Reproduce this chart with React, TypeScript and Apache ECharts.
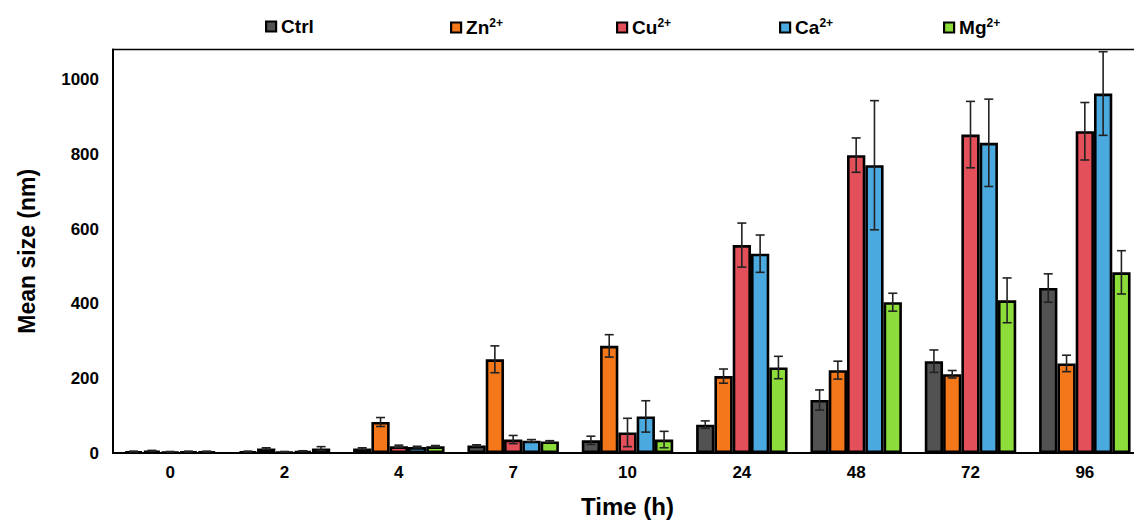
import React, { useEffect, useRef } from "react";
import * as echarts from "echarts";

const categories = ["0", "2", "4", "7", "10", "24", "48", "72", "96"];
const seriesNames = ["Ctrl", "Zn2+", "Cu2+", "Ca2+", "Mg2+"];
const seriesColors = ["#525252", "#F47719", "#E4505A", "#4AAAE0", "#8CDC3A"];

const ctrlValues = [4, 4, 12, 20, 34, 76, 142, 246, 442];
const ctrlErrors = [1, 1, 2, 2, 11, 10, 27, 30, 38];
const znValues = [6, 12, 83, 251, 287, 206, 222, 211, 240];
const znErrors = [1, 2, 12, 36, 30, 19, 24, 10, 22];
const cuValues = [3, 3, 18, 36, 55, 557, 798, 853, 862];
const cuErrors = [1, 1, 3, 11, 38, 59, 46, 89, 77];
const caValues = [4, 5, 16, 33, 98, 534, 771, 831, 963];
const caErrors = [1, 1, 2, 3, 42, 50, 173, 117, 112];
const mgValues = [4, 12, 18, 31, 36, 229, 404, 409, 484];
const mgErrors = [1, 5, 2, 2, 22, 30, 24, 60, 58];

const yTicks = [0, 200, 400, 600, 800, 1000];
const legendLefts = [265, 450, 616, 779, 943];

const allValues = [ctrlValues, znValues, cuValues, caValues, mgValues];
const allErrors = [ctrlErrors, znErrors, cuErrors, caErrors, mgErrors];

const CAT_GAP = 0.2;

export default function App() {
  const ref = useRef<HTMLDivElement>(null);
  useEffect(() => {
    if (!ref.current) return;
    const chart = echarts.init(ref.current, null, { renderer: "svg" });
    const font = "'Liberation Sans', Arial, sans-serif";

    const barSeries = seriesNames.map((name, i) => ({
      name,
      type: "bar",
      data: allValues[i],
      barGap: "0%",
      barCategoryGap: CAT_GAP * 100 + "%",
      itemStyle: { color: seriesColors[i], borderColor: "#000", borderWidth: 2.6 },
      z: 2,
    }));

    const errSeries = seriesNames.map((name, i) => ({
      name: name + "_err",
      type: "custom",
      z: 5,
      data: allValues[i].map((v, k) => [k, v, allErrors[i][k]]),
      renderItem: (params: any, api: any) => {
        const k = api.value(0);
        const v = api.value(1);
        const e = api.value(2);
        const top = api.coord([k, v + e]);
        const bot = api.coord([k, Math.max(0, v - e)]);
        const band = api.size([1, 0])[0];
        const w = (band * (1 - CAT_GAP)) / 5;
        const x = top[0] + (i - 2) * w;
        const cap = 4.5;
        const st = { stroke: "#222", lineWidth: 1.6 };
        return {
          type: "group",
          children: [
            { type: "line", shape: { x1: x, y1: top[1], x2: x, y2: bot[1] }, style: st },
            { type: "line", shape: { x1: x - cap, y1: top[1], x2: x + cap, y2: top[1] }, style: st },
            { type: "line", shape: { x1: x - cap, y1: bot[1], x2: x + cap, y2: bot[1] }, style: st },
          ],
        };
      },
    }));

    const legends = seriesNames.map((name, i) => ({
      data: [name],
      left: legendLefts[i],
      top: 17,
      icon: "rect",
      itemWidth: 10,
      itemHeight: 10,
      itemGap: 0,
      padding: 0,
      selectedMode: false,
      itemStyle: { borderWidth: 2.2, borderColor: "#000" },
      formatter: (n: string) => {
        const m = n.match(/^([A-Za-z]+)(\d\+)$/);
        return m ? "{b|" + m[1] + "}{sup|" + m[2] + "}" : "{b|" + n + "}";
      },
      textStyle: {
        fontFamily: font,
        fontWeight: "bold",
        fontSize: 19,
        color: "#000",
        rich: {
          b: { fontFamily: font, fontWeight: "bold", fontSize: 19, color: "#000" },
          sup: { fontFamily: font, fontWeight: "bold", fontSize: 12, color: "#000", padding: [0, 0, 9, 0] },
        },
      },
    }));

    chart.setOption({
      animation: false,
      backgroundColor: "#fff",
      legend: legends,
      grid: {
        left: 113,
        right: 0,
        top: 49.5,
        bottom: 68.5,
        show: true,
        borderColor: "#000",
        borderWidth: 1.6,
        containLabel: false,
      },
      xAxis: {
        type: "category",
        data: categories,
        axisLine: { lineStyle: { color: "#000", width: 2 } },
        axisTick: { show: false },
        axisLabel: { fontFamily: font, fontWeight: "bold", fontSize: 17, color: "#000", margin: 11 },
        name: "Time (h)",
        nameLocation: "middle",
        nameGap: 41,
        nameTextStyle: { fontFamily: font, fontWeight: "bold", fontSize: 24, color: "#000" },
      },
      yAxis: {
        type: "value",
        min: 0,
        max: 1081,
        interval: 200,
        splitLine: { show: false },
        axisLine: { show: true, lineStyle: { color: "#000", width: 2 } },
        axisTick: { show: false },
        axisLabel: {
          fontFamily: font,
          fontWeight: "bold",
          fontSize: 17,
          color: "#000",
          margin: 14,
          formatter: (v: number) => (yTicks.indexOf(v) >= 0 ? String(v) : ""),
        },
        name: "Mean size (nm)",
        nameLocation: "middle",
        nameRotate: 90,
        nameGap: 75,
        nameTextStyle: { fontFamily: font, fontWeight: "bold", fontSize: 23, color: "#000" },
      },
      series: [...barSeries, ...errSeries],
    });
    return () => chart.dispose();
  }, []);
  return (
    <div style={{ position: "fixed", left: 0, top: 0, width: 1134, height: 523, overflow: "hidden" }}>
      <div ref={ref} style={{ position: "absolute", left: 0, top: 0, width: 1142, height: 523 }} />
    </div>
  );
}
